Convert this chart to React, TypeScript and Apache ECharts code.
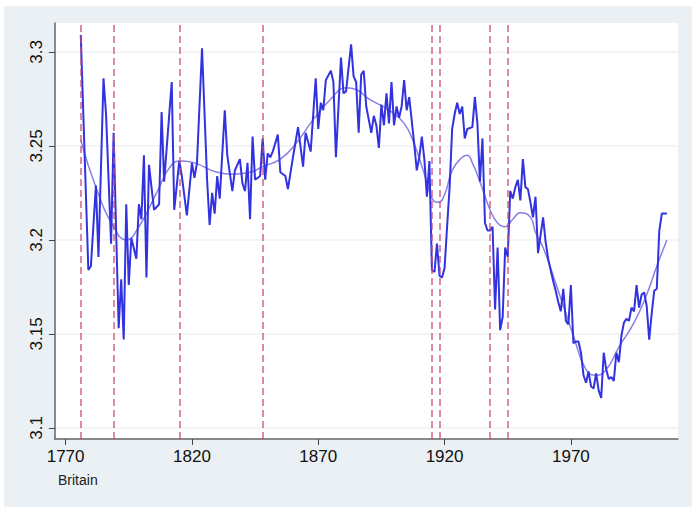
import React, { useEffect, useRef } from "react";
import * as echarts from "echarts";

// Annual series (Britain)
const blueYears = [
  1776, 1779, 1780, 1782, 1783, 1785, 1786, 1788, 1789, 1791, 1792, 1793, 1794, 1795, 1796, 1798, 1799, 1800,
  1801, 1802, 1803, 1805, 1807, 1808, 1809, 1812, 1813, 1815, 1816, 1818, 1820, 1821, 1822, 1824, 1826, 1827,
  1828, 1829, 1830, 1831, 1833, 1834, 1836, 1837, 1839, 1840, 1841, 1842, 1843, 1844, 1845, 1847, 1848, 1849,
  1850, 1851, 1852, 1854, 1855, 1857, 1858, 1860, 1862, 1864, 1865, 1867, 1869, 1870, 1871, 1872, 1873, 1875,
  1876, 1877, 1879, 1880, 1881, 1883, 1884, 1885, 1886, 1887, 1888, 1889, 1890, 1891, 1892, 1893, 1894, 1895,
  1896, 1897, 1898, 1899, 1900, 1901, 1902, 1903, 1904, 1905, 1906, 1908, 1909, 1910, 1911, 1912, 1913, 1914,
  1915, 1916, 1917, 1918, 1919, 1920, 1921, 1922, 1923, 1924, 1925, 1926, 1927, 1928, 1929, 1931, 1932, 1933,
  1934, 1935, 1936, 1937, 1938, 1939, 1940, 1941, 1942, 1943, 1944, 1945, 1946, 1947, 1948, 1949, 1950, 1951,
  1952, 1953, 1954, 1955, 1956, 1957, 1959, 1960, 1961, 1962, 1963, 1964, 1965, 1966, 1967, 1968, 1969, 1970,
  1971, 1972, 1973, 1974, 1975, 1976, 1977, 1978, 1979, 1980, 1981, 1982, 1983, 1984, 1985, 1986, 1987, 1988,
  1989, 1990, 1991, 1992, 1993, 1994, 1995, 1996, 1997, 1998, 1999, 2000, 2001, 2002, 2003, 2004, 2005, 2006,
  2007, 2008,
];
const blueValues = [
  3.309, 3.184, 3.186, 3.229, 3.191, 3.286, 3.267, 3.198, 3.257, 3.153, 3.179, 3.147, 3.219, 3.176, 3.201, 3.19, 3.219, 3.211,
  3.245, 3.18, 3.24, 3.216, 3.219, 3.268, 3.231, 3.284, 3.216, 3.242, 3.234, 3.213, 3.241, 3.233, 3.241, 3.302, 3.232, 3.208,
  3.225, 3.214, 3.234, 3.222, 3.269, 3.245, 3.226, 3.237, 3.243, 3.23, 3.226, 3.241, 3.211, 3.255, 3.232, 3.234, 3.254, 3.232,
  3.246, 3.244, 3.247, 3.256, 3.236, 3.234, 3.227, 3.244, 3.26, 3.239, 3.257, 3.247, 3.286, 3.259, 3.273, 3.269, 3.285, 3.29,
  3.284, 3.244, 3.297, 3.278, 3.279, 3.304, 3.287, 3.284, 3.257, 3.288, 3.29, 3.271, 3.264, 3.257, 3.266, 3.261, 3.249, 3.272,
  3.261, 3.278, 3.262, 3.284, 3.261, 3.271, 3.265, 3.271, 3.285, 3.269, 3.276, 3.251, 3.237, 3.244, 3.255, 3.243, 3.223, 3.242,
  3.184, 3.183, 3.198, 3.181, 3.18, 3.185, 3.207, 3.228, 3.259, 3.267, 3.273, 3.267, 3.271, 3.254, 3.259, 3.26, 3.276, 3.262,
  3.231, 3.254, 3.209, 3.205, 3.205, 3.207, 3.163, 3.196, 3.152, 3.159, 3.196, 3.191, 3.226, 3.222, 3.228, 3.232, 3.221, 3.243,
  3.228, 3.227, 3.22, 3.212, 3.223, 3.193, 3.212, 3.199, 3.19, 3.184, 3.178, 3.173, 3.167, 3.162, 3.174, 3.157, 3.155, 3.176,
  3.145, 3.146, 3.146, 3.14, 3.128, 3.124, 3.13, 3.122, 3.121, 3.129, 3.12, 3.116, 3.14, 3.131, 3.126, 3.127, 3.125, 3.14,
  3.135, 3.149, 3.156, 3.158, 3.157, 3.164, 3.162, 3.176, 3.164, 3.171, 3.172, 3.165, 3.147, 3.161, 3.173, 3.174, 3.205, 3.214,
  3.214, 3.214,
];

// Smoothed trend
const trendYears = [
  1776, 1782, 1789, 1794, 1799, 1806, 1812, 1816, 1821, 1830, 1836, 1843, 1848, 1855, 1861, 1868, 1875, 1881, 1885,
  1890, 1898, 1904, 1908, 1912, 1915.5, 1917.5, 1920, 1923, 1927, 1929, 1931, 1934, 1938, 1941, 1944, 1947, 1950,
  1954, 1956, 1959, 1964, 1971, 1976, 1980, 1984, 1989, 1995, 2000, 2004, 2008,
];
const trendValues = [
  3.253, 3.228, 3.207, 3.2, 3.207, 3.225, 3.24, 3.242, 3.241, 3.236, 3.235, 3.236, 3.239, 3.243, 3.251, 3.264, 3.275, 3.281, 3.28,
  3.275, 3.269, 3.262, 3.251, 3.235, 3.221, 3.22, 3.224, 3.237, 3.244, 3.245, 3.241, 3.231, 3.216, 3.209, 3.207, 3.211, 3.2145,
  3.212, 3.204, 3.196, 3.177, 3.149, 3.131, 3.128, 3.131, 3.143, 3.156, 3.171, 3.186, 3.2,
];

// Vertical event markers
const eventYears = [1776, 1789, 1815, 1848, 1915, 1918, 1938, 1945];

const xTicks = [1770, 1820, 1870, 1920, 1970];
const yTicks = [3.1, 3.15, 3.2, 3.25, 3.3];
const caption = "Britain";

const FONT = "'Liberation Sans', Arial, Helvetica, sans-serif";

export default function App() {
  const ref = useRef<HTMLDivElement>(null);

  useEffect(() => {
    if (!ref.current) return;
    const chart = echarts.init(ref.current, null, { renderer: "svg" });
    const blueData = blueYears.map((y, i) => [y, blueValues[i]]);
    const trendData = trendYears.map((y, i) => [y, trendValues[i]]);

    chart.setOption({
      animation: false,
      backgroundColor: "#ffffff",
      textStyle: { fontFamily: FONT },
      graphic: [
        {
          type: "rect",
          left: 4,
          top: 6,
          shape: { width: 688, height: 501 },
          style: { fill: "#eaf0f3" },
          z: -10,
          silent: true,
        },
        {
          type: "text",
          left: 58,
          top: 473,
          style: { text: caption, fontSize: 14, fill: "#222", fontFamily: FONT },
        },
      ],
      grid: {
        left: 55,
        right: 14,
        top: 23,
        bottom: 68,
        show: true,
        backgroundColor: "#ffffff",
        borderWidth: 0,
        containLabel: false,
      },
      xAxis: {
        type: "value",
        min: 1765.8,
        max: 2012.4,
        axisLine: { show: true, lineStyle: { color: "#666", width: 1.5 } },
        axisTick: { show: true, length: 6, customValues: xTicks, lineStyle: { color: "#444" } },
        axisLabel: {
          customValues: xTicks,
          fontSize: 17,
          color: "#111",
          margin: 9,
          fontFamily: FONT,
          formatter: (v: number) => String(v),
        },
        splitLine: { show: false },
      },
      yAxis: {
        type: "value",
        min: 3.0941,
        max: 3.3154,
        axisLine: { show: true, lineStyle: { color: "#666", width: 1.5 } },
        axisTick: { show: true, length: 6, customValues: yTicks, lineStyle: { color: "#444" } },
        axisLabel: {
          customValues: yTicks,
          fontSize: 17,
          rotate: 90,
          color: "#111",
          margin: 10,
          fontFamily: FONT,
          formatter: (v: number) => String(Math.round(v * 100) / 100),
        },
        splitLine: { show: true, lineStyle: { color: "#eef0f3", width: 1.5 } },
      },
      series: [
        {
          type: "line",
          name: "events",
          data: [],
          z: 1,
          markLine: {
            silent: true,
            symbol: "none",
            label: { show: false },
            lineStyle: { color: "#c94a6c", type: [7, 4], width: 1.5, opacity: 0.85 },
            data: eventYears.map((y) => ({ xAxis: y })),
          },
        },
        {
          type: "line",
          name: "trend",
          data: trendData,
          smooth: true,
          showSymbol: false,
          z: 2,
          lineStyle: { color: "#8a7fe6", width: 1.5 },
        },
        {
          type: "line",
          name: "Britain",
          data: blueData,
          showSymbol: false,
          z: 3,
          clip: false,
          lineStyle: { color: "#3232e0", width: 2 },
        },
      ],
    });

    return () => chart.dispose();
  }, []);

  return (
    <div
      ref={ref}
      style={{ position: "absolute", left: 0, top: 0, width: 692, height: 507 }}
    />
  );
}
